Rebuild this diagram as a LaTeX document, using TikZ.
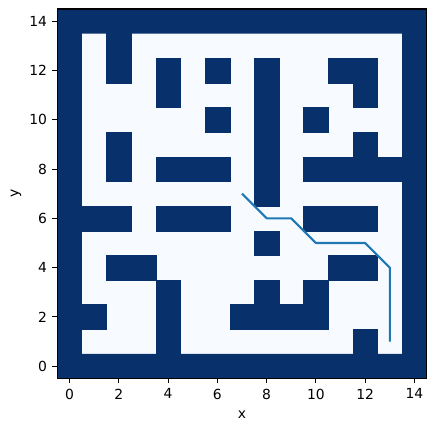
\documentclass[tikz,border=0pt]{standalone}
\usepackage{fontspec}
\setmainfont{DejaVu Sans}
\usepackage{tikz}
\usetikzlibrary{positioning}
\usepackage{xcolor}
\definecolor{wallblue}{HTML}{08306B}
\definecolor{freeblue}{HTML}{F7FBFF}
\definecolor{routeblue}{HTML}{1F77B4}

\begin{document}
\begin{tikzpicture}[x=17.73pt, y=17.73pt,
				wall/.style={fill=wallblue, draw=wallblue, line width=0.2pt},
				route/.style={routeblue, line width=1.5pt, line join=round},
				tickmark/.style={black, line width=0.8pt},
				ticklabel/.style={font=\fontsize{10}{12}\selectfont, inner sep=0pt}]
				\useasboundingbox (-2.826,-2.674) rectangle (14.875,14.865);
				%--- free cells ---
				\fill[freeblue] (-0.5,-0.5) rectangle (14.5,14.5);
				%--- outer wall ---
				\fill[wallblue, even odd rule] (-0.5,-0.5) rectangle (14.5,14.5)
				(0.5,0.5) rectangle (13.5,13.5);
				%--- inner walls ---
				\foreach \cx/\cy in {2/13,
					2/12, 4/12, 6/12, 8/12, 11/12, 12/12,
					4/11, 8/11, 12/11,
					6/10, 8/10, 10/10,
					2/9, 8/9, 12/9,
					2/8, 4/8, 5/8, 6/8, 8/8, 10/8, 11/8, 12/8, 13/8,
					8/7,
					1/6, 2/6, 4/6, 5/6, 6/6, 10/6, 11/6, 12/6,
					8/5,
					2/4, 3/4, 11/4, 12/4,
					4/3, 8/3, 10/3,
					1/2, 4/2, 7/2, 8/2, 9/2, 10/2,
					4/1, 12/1}
				\fill[wall] (\cx-0.5,\cy-0.5) rectangle ++(1,1);
				%--- route ---
				\coordinate (start) at (7,7);
				\coordinate (r1) at (8,6);
				\coordinate (r2) at (9,6);
				\coordinate (r3) at (10,5);
				\coordinate (r4) at (12,5);
				\coordinate (r5) at (13,4);
				\coordinate (goal) at (13,1);
				\draw[route] (start) -- (r1) -- (r2) -- (r3) -- (r4) -- (r5) -- (goal);
				%--- frame and ticks ---
				\draw[tickmark] (-0.5,-0.5) rectangle (14.5,14.5);
				\foreach \t in {0,2,...,14} {
					\draw[tickmark] (\t,-0.5) -- ++(0,-3.5pt)
					node[ticklabel, anchor=north, yshift=-3.5pt] (xt\t) {\t};
					\draw[tickmark] (-0.5,\t) -- ++(-3.5pt,0)
					node[ticklabel, anchor=east, xshift=-3.5pt] (yt\t) {\t};
				}
				\node[ticklabel] (xlabel) at (7,-1.98) {x};
				\node[ticklabel, rotate=90] (ylabel) at (-2.18,7) {y};
			\end{tikzpicture}
\end{document}
